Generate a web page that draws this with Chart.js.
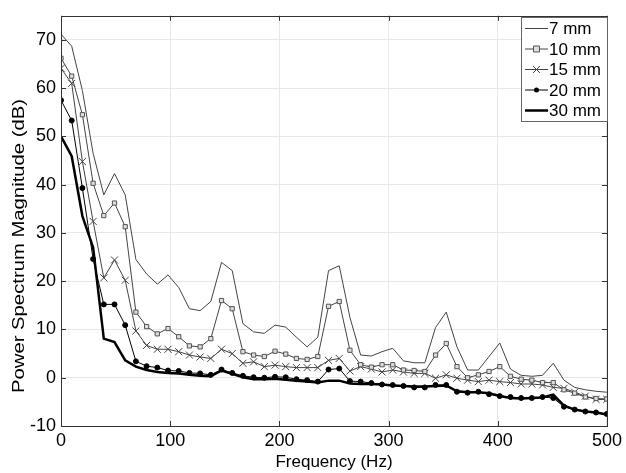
<!DOCTYPE html>
<html>
<head>
<meta charset="utf-8">
<script src="https://cdn.jsdelivr.net/npm/chart.js@4.4.1/dist/chart.umd.min.js"></script>
<style>
  html, body { margin: 0; padding: 0; background: #fff; }
  #wrap { width: 626px; height: 473px; }
</style>
</head>
<body>
<div id="wrap"><canvas id="c" width="626" height="473"></canvas></div>
<script>
// frequency bins (Hz)
const FREQS = [
  0, 9.8, 19.6, 29.4, 39.2, 49, 58.8, 68.6, 78.4, 88.2,
  98, 107.8, 117.6, 127.4, 137.2, 147, 156.8, 166.6, 176.4, 186.2,
  196, 205.8, 215.6, 225.4, 235.2, 245, 254.8, 264.6, 274.4, 284.2,
  294, 303.8, 313.6, 323.4, 333.2, 343, 352.8, 362.6, 372.4, 382.2,
  392, 401.8, 411.6, 421.4, 431.2, 441, 450.8, 460.6, 470.4, 480.2,
  490, 499.8
];

// power spectrum magnitude (dB) per distance
const MM7 = [
  71.2, 68.7, 59.5, 46.5, 37.9, 42.3, 37.9, 24.5, 21.5, 19.4,
  21.3, 18.7, 14.3, 13.9, 15.8, 23.9, 22.2, 11.2, 9.5, 9.2,
  10.9, 10.5, 8.4, 6.4, 8.4, 22.2, 23.2, 12.5, 4.7, 4.5,
  5.4, 6.1, 3.5, 3.1, 3.1, 10.4, 13.6, 6.4, 1.6, 1.6,
  4.4, 7.2, 1.8, 0.5, 0.3, 0.5, 3.0, -0.5, -2.0, -2.5,
  -2.8, -3.0
];
const MM10 = [
  66.2, 62.5, 54.5, 40.3, 33.6, 36.2, 31.3, 13.6, 10.6, 9.1,
  10.2, 8.5, 6.6, 6.4, 8.1, 16.0, 14.3, 5.4, 4.7, 4.4,
  5.5, 4.9, 4.0, 3.8, 4.4, 14.8, 15.8, 5.7, 2.7, 2.2,
  2.7, 2.7, 1.6, 1.5, 1.3, 4.7, 7.1, 2.3, 0.0, 0.6,
  1.3, 2.3, 0.3, -0.3, -0.5, -1.0, -1.0, -2.5, -3.2, -4.0,
  -4.3, -4.4
];
const MM15 = [
  64.1, 61.0, 44.8, 32.4, 20.7, 24.4, 20.2, 9.7, 6.7, 5.9,
  5.9, 5.4, 4.7, 4.3, 4.0, 5.9, 5.0, 3.0, 3.3, 2.3,
  2.6, 2.3, 2.1, 2.1, 2.1, 3.6, 4.0, 1.4, 2.3, 1.8,
  1.2, 1.6, 1.2, 0.9, 0.9, -0.1, 0.6, -0.1, -0.5, -0.8,
  -0.5, -0.8, -1.0, -1.3, -1.3, -1.5, -2.0, -2.2, -3.0, -3.8,
  -4.5, -4.5
];
const MM20 = [
  57.5, 53.3, 39.3, 24.6, 15.2, 15.2, 10.9, 3.4, 2.4, 2.1,
  1.5, 1.4, 1.0, 0.9, 0.6, 1.7, 1.0, 0.4, 0.1, 0.0,
  0.2, 0.1, -0.3, -0.5, -0.8, 1.7, 1.9, -0.7, -0.8, -1.1,
  -1.4, -1.5, -1.7, -2.0, -2.0, -1.5, -1.5, -2.9, -3.1, -2.9,
  -3.4, -3.8, -4.0, -4.2, -4.2, -4.0, -4.2, -6.0, -6.6, -7.0,
  -7.2, -7.5
];
const MM30 = [
  50.0, 45.9, 33.5, 27.0, 8.1, 7.4, 3.6, 2.3, 1.6, 1.2,
  1.0, 0.9, 0.6, 0.4, 0.3, 1.5, 0.8, 0.1, -0.3, -0.3,
  -0.2, -0.4, -0.6, -0.8, -1.0, -0.6, -0.6, -1.2, -1.3, -1.3,
  -1.4, -1.6, -1.7, -1.8, -1.8, -1.7, -1.6, -2.8, -3.0, -3.0,
  -3.2, -3.8, -4.2, -4.3, -4.2, -4.1, -3.5, -5.8, -6.6, -7.0,
  -7.2, -7.6
];

const LABELS = ["7 mm", "10 mm", "15 mm", "20 mm", "30 mm"];
const X_TICKS = [0, 100, 200, 300, 400, 500];
const Y_TICKS = [-10, 0, 10, 20, 30, 40, 50, 60, 70];
const Y_TITLE = "Power Spectrum Magnitude (dB)";

const FONT = "'Liberation Sans', Arial, sans-serif";

// series look: line colour/width, marker
const STYLES = [
  { color: "#444", width: 1, point: false, radius: 0 },
  { color: "#444", width: 1, point: "rect", radius: 3, fill: "#ddd", edge: "#555" },
  { color: "#444", width: 1, point: "crossRot", radius: 5, fill: "#444", edge: "#444" },
  { color: "#000", width: 1, point: "circle", radius: 2.5, fill: "#000", edge: "#000" },
  { color: "#000", width: 2.5, point: false, radius: 0 },
];

const SERIES = [MM7, MM10, MM15, MM20, MM30];

function toPoints(vals) {
  return vals.map((v, i) => ({ x: FREQS[i], y: v }));
}

// box, inward ticks, y label and legend like a matlab axes
const axesBox = {
  id: "axesBox",
  afterDraw(chart) {
    const { ctx, chartArea: a, scales } = chart;
    ctx.save();
    ctx.strokeStyle = "#333";
    ctx.lineWidth = 1;
    ctx.strokeRect(Math.round(a.left) + 0.5, Math.round(a.top) + 0.5,
      Math.round(a.right - a.left), Math.round(a.bottom - a.top));
    ctx.beginPath();
    const tl = 5;
    X_TICKS.forEach(t => {
      const x = Math.round(scales.x.getPixelForValue(t)) + 0.5;
      ctx.moveTo(x, a.bottom); ctx.lineTo(x, a.bottom - tl);
      ctx.moveTo(x, a.top); ctx.lineTo(x, a.top + tl);
    });
    Y_TICKS.forEach(t => {
      const y = Math.round(scales.y.getPixelForValue(t)) + 0.5;
      ctx.moveTo(a.left, y); ctx.lineTo(a.left + tl, y);
      ctx.moveTo(a.right, y); ctx.lineTo(a.right - tl, y);
    });
    ctx.stroke();

    // y axis label, stretched along its length as in the figure
    ctx.save();
    ctx.font = "17px " + FONT;
    const tw = ctx.measureText(Y_TITLE).width;
    ctx.translate(19, 246);
    ctx.rotate(-Math.PI / 2);
    ctx.scale(294 / tw, 1);
    ctx.fillStyle = "#000";
    ctx.textAlign = "center";
    ctx.textBaseline = "middle";
    ctx.fillText(Y_TITLE, 0, 0);
    ctx.restore();

    // legend
    const lx = 521, ly = 17, lw = 86, lh = 104, row = 20.5;
    ctx.fillStyle = "#fff";
    ctx.fillRect(lx, ly, lw, lh);
    ctx.strokeStyle = "#666";
    ctx.strokeRect(lx + 0.5, ly + 0.5, lw, lh);
    ctx.font = "17px " + FONT;
    ctx.textBaseline = "middle";
    LABELS.forEach((lab, i) => {
      const s = STYLES[i];
      const y = ly + 11.5 + i * row;
      ctx.strokeStyle = s.color;
      ctx.lineWidth = s.width;
      ctx.beginPath();
      ctx.moveTo(lx + 4, y); ctx.lineTo(lx + 27, y);
      ctx.stroke();
      if (s.point) {
        ctx.fillStyle = s.fill;
        ctx.strokeStyle = s.edge;
        ctx.lineWidth = 1;
        ctx.beginPath();
        if (s.point === "rect") {
          ctx.rect(lx + 12.5, y - 3, 6, 6); ctx.fill(); ctx.stroke();
        } else if (s.point === "circle") {
          ctx.arc(lx + 15.5, y, 2.5, 0, Math.PI * 2); ctx.fill();
        } else {
          ctx.moveTo(lx + 12, y - 3.5); ctx.lineTo(lx + 19, y + 3.5);
          ctx.moveTo(lx + 19, y - 3.5); ctx.lineTo(lx + 12, y + 3.5);
          ctx.stroke();
        }
      }
      ctx.fillStyle = "#000";
      ctx.fillText(lab, lx + 28, y + 1);
    });
    ctx.restore();
  }
};

new Chart(document.getElementById("c"), {
  type: "line",
  data: {
    datasets: SERIES.map((vals, i) => {
      const s = STYLES[i];
      return {
        label: LABELS[i],
        data: toPoints(vals),
        borderColor: s.color,
        borderWidth: s.width,
        pointStyle: s.point || "circle",
        pointRadius: s.radius,
        pointHoverRadius: s.radius,
        pointBackgroundColor: s.fill || s.color,
        pointBorderColor: s.edge || s.color,
        pointBorderWidth: 1,
        tension: 0,
        fill: false,
      };
    }),
  },
  options: {
    responsive: false,
    animation: false,
    events: [],
    layout: { padding: { top: 14, right: 16, left: 0, bottom: 0 } },
    plugins: {
      legend: { display: false },
      tooltip: { enabled: false },
    },
    scales: {
      x: {
        type: "linear",
        min: 0,
        max: 500,
        afterFit: s => { s.height = 47; },
        afterBuildTicks: s => { s.ticks = X_TICKS.map(v => ({ value: v })); },
        grid: { color: "#e8e8e8", drawTicks: false },
        border: { display: false },
        ticks: { color: "#000", padding: 4, font: { family: FONT, size: 18 } },
        title: {
          display: true,
          text: "Frequency (Hz)",
          color: "#000",
          font: { family: FONT, size: 17 },
          padding: { top: 0, bottom: 0 },
        },
      },
      y: {
        min: -10,
        max: 75,
        afterFit: s => { s.width = 61; },
        afterBuildTicks: s => { s.ticks = Y_TICKS.map(v => ({ value: v })); },
        grid: { color: "#e8e8e8", drawTicks: false },
        border: { display: false },
        ticks: { color: "#000", padding: 5, font: { family: FONT, size: 18 } },
        title: { display: false },
      },
    },
  },
  plugins: [axesBox],
});
</script>
</body>
</html>
